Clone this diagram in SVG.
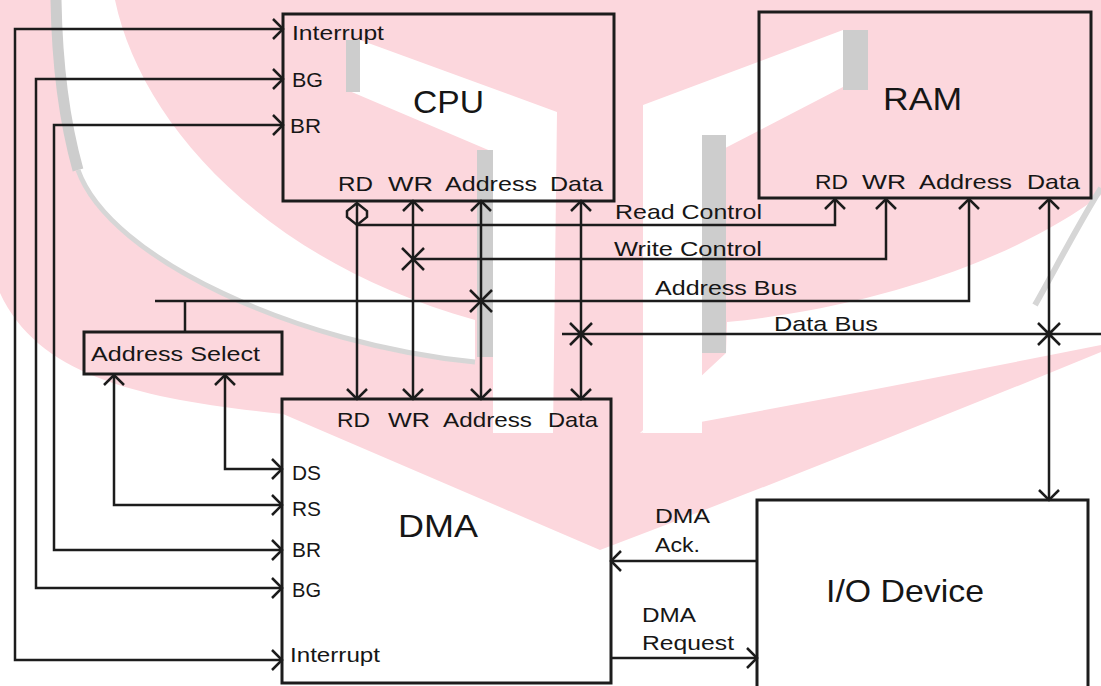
<svg xmlns="http://www.w3.org/2000/svg" width="1101" height="686" viewBox="0 0 1101 686">
<style>
.box{fill:none;stroke:#1c1c1c;stroke-width:3}
.ln{fill:none;stroke:#1c1c1c;stroke-width:2.5}
.t{font-family:"Liberation Sans",Arial,sans-serif;font-size:21px;fill:#161616}
.big{font-family:"Liberation Sans",Arial,sans-serif;font-size:32px;fill:#161616}
</style>
<defs>
<marker id="ah" viewBox="-12 -12 24 24" refX="0" refY="0" markerWidth="24" markerHeight="24" markerUnits="userSpaceOnUse" orient="auto-start-reverse" overflow="visible">
<path d="M-10,-10 L0,0 L-10,10" fill="none" stroke="#1c1c1c" stroke-width="2.5"/>
</marker>
</defs>
<rect width="1101" height="686" fill="#ffffff"/>
<g id="watermark">
<path d="M0,0 H1101 V352 Q850,455 600,550 L283,414 C150,400 40,380 0,293 Z" fill="#fcd7dd"/>
<path d="M115,0 C140,120 260,260 475,320 L475,362 C300,345 110,260 78,170 C64,120 57,60 56,0 Z" fill="#ffffff"/>
<path d="M56,0 C57,60 64,120 78,170" fill="none" stroke="#cdcdcd" stroke-width="11"/>
<path d="M78,170 C110,260 300,345 475,362" fill="none" stroke="#d6d6d6" stroke-width="5"/>
<path d="M360,40 L557,112 L553,433 L493,433 L493,152 L347,90 Z" fill="#ffffff"/>
<rect x="346" y="40" width="14" height="52" fill="#cdcdcd"/>
<rect x="477" y="150" width="16" height="207" fill="#cdcdcd"/>
<path d="M843,30 L843,87 L702,160 L702,433 L643,433 L643,105 Z" fill="#ffffff"/>
<rect x="843" y="30" width="25" height="60" fill="#cdcdcd"/>
<rect x="702" y="135" width="24" height="218" fill="#cdcdcd"/>
<path d="M727,322 C850,310 1000,270 1101,195 L1101,345 Q850,395 640,433 L726,353 Z" fill="#ffffff"/>
<path d="M1101,188 C1075,230 1055,270 1035,305" fill="none" stroke="#d6d6d6" stroke-width="6"/>
</g>
<g id="connectors">
<path class="ln" d="M283,29 H15 V660 H282" marker-start="url(#ah)" marker-end="url(#ah)"/>
<path class="ln" d="M283,79 H36 V588 H282" marker-start="url(#ah)" marker-end="url(#ah)"/>
<path class="ln" d="M283,125 H54 V550 H282" marker-start="url(#ah)" marker-end="url(#ah)"/>
<path class="ln" d="M282,469 H225 V375" marker-start="url(#ah)" marker-end="url(#ah)"/>
<path class="ln" d="M282,505 H114 V375" marker-start="url(#ah)" marker-end="url(#ah)"/>
<path class="ln" d="M185,332 V301"/>
<path class="ln" d="M155,301 H969 V199" marker-end="url(#ah)"/>
<path class="ln" d="M357,203 V399" marker-end="url(#ah)"/>
<path class="ln" d="M357,203 L347,211 L347,217 L357,225 L367,217 L367,211 Z"/>
<path class="ln" d="M357,225 H835 V199" marker-end="url(#ah)"/>
<path class="ln" d="M413,201 V399" marker-start="url(#ah)" marker-end="url(#ah)"/>
<path class="ln" d="M413,259 H886 V199" marker-end="url(#ah)"/>
<path class="ln" d="M481,201 V399" marker-start="url(#ah)" marker-end="url(#ah)"/>
<path class="ln" d="M581,201 V399" marker-start="url(#ah)" marker-end="url(#ah)"/>
<path class="ln" d="M562,334 H1101"/>
<path class="ln" d="M1049,199 V500" marker-start="url(#ah)" marker-end="url(#ah)"/>
<path class="ln" d="M757,561 H611" marker-end="url(#ah)"/>
<path class="ln" d="M611,658 H757" marker-end="url(#ah)"/>
<path class="ln" d="M402,248 L424,270 M402,270 L424,248"/>
<path class="ln" d="M470,290 L492,312 M470,312 L492,290"/>
<path class="ln" d="M570,323 L592,345 M570,345 L592,323"/>
<path class="ln" d="M1038,323 L1060,345 M1038,345 L1060,323"/>
<circle cx="581" cy="334" r="3.5" fill="#1c1c1c"/>
<circle cx="1049" cy="334" r="3.5" fill="#1c1c1c"/>
<text class="t" x="615" y="219" textLength="147" lengthAdjust="spacingAndGlyphs">Read Control</text>
<text class="t" x="614" y="256" textLength="148" lengthAdjust="spacingAndGlyphs">Write Control</text>
<text class="t" x="655" y="295" textLength="142" lengthAdjust="spacingAndGlyphs">Address Bus</text>
<text class="t" x="774" y="331" textLength="104" lengthAdjust="spacingAndGlyphs">Data Bus</text>
<text class="t" x="655" y="523" textLength="55" lengthAdjust="spacingAndGlyphs">DMA</text>
<text class="t" x="655" y="552" textLength="45" lengthAdjust="spacingAndGlyphs">Ack.</text>
<text class="t" x="642" y="622" textLength="54" lengthAdjust="spacingAndGlyphs">DMA</text>
<text class="t" x="642" y="650" textLength="92" lengthAdjust="spacingAndGlyphs">Request</text>
</g>
<g id="cpu">
<rect class="box" x="283" y="14" width="331" height="187"/>
<text class="t" x="292" y="40" textLength="92" lengthAdjust="spacingAndGlyphs">Interrupt</text>
<text class="t" x="292" y="87" textLength="31" lengthAdjust="spacingAndGlyphs">BG</text>
<text class="t" x="290" y="133" textLength="31" lengthAdjust="spacingAndGlyphs">BR</text>
<text class="big" x="413" y="113" textLength="71" lengthAdjust="spacingAndGlyphs">CPU</text>
<text class="t" x="338" y="191" textLength="35" lengthAdjust="spacingAndGlyphs">RD</text>
<text class="t" x="388" y="191" textLength="45" lengthAdjust="spacingAndGlyphs">WR</text>
<text class="t" x="445" y="191" textLength="92" lengthAdjust="spacingAndGlyphs">Address</text>
<text class="t" x="550" y="191" textLength="53" lengthAdjust="spacingAndGlyphs">Data</text>
</g>
<g id="ram">
<rect class="box" x="759" y="12" width="332" height="186"/>
<text class="big" x="883" y="110" textLength="79" lengthAdjust="spacingAndGlyphs">RAM</text>
<text class="t" x="815" y="189" textLength="33" lengthAdjust="spacingAndGlyphs">RD</text>
<text class="t" x="862" y="189" textLength="44" lengthAdjust="spacingAndGlyphs">WR</text>
<text class="t" x="919" y="189" textLength="93" lengthAdjust="spacingAndGlyphs">Address</text>
<text class="t" x="1027" y="189" textLength="53" lengthAdjust="spacingAndGlyphs">Data</text>
</g>
<g id="address-select">
<rect class="box" x="84" y="332" width="198" height="42"/>
<text class="t" x="91" y="361" textLength="169" lengthAdjust="spacingAndGlyphs">Address Select</text>
</g>
<g id="dma">
<rect class="box" x="282" y="399" width="329" height="284"/>
<text class="t" x="337" y="427" textLength="33" lengthAdjust="spacingAndGlyphs">RD</text>
<text class="t" x="388" y="427" textLength="42" lengthAdjust="spacingAndGlyphs">WR</text>
<text class="t" x="443" y="427" textLength="89" lengthAdjust="spacingAndGlyphs">Address</text>
<text class="t" x="548" y="427" textLength="50" lengthAdjust="spacingAndGlyphs">Data</text>
<text class="t" x="292" y="480" textLength="29" lengthAdjust="spacingAndGlyphs">DS</text>
<text class="t" x="292" y="516" textLength="29" lengthAdjust="spacingAndGlyphs">RS</text>
<text class="t" x="292" y="557" textLength="29" lengthAdjust="spacingAndGlyphs">BR</text>
<text class="t" x="292" y="597" textLength="29" lengthAdjust="spacingAndGlyphs">BG</text>
<text class="t" x="290" y="662" textLength="90" lengthAdjust="spacingAndGlyphs">Interrupt</text>
<text class="big" x="398" y="537" textLength="80" lengthAdjust="spacingAndGlyphs">DMA</text>
</g>
<g id="io-device">
<rect class="box" x="757" y="500" width="331" height="200"/>
<text class="big" x="826" y="602" textLength="158" lengthAdjust="spacingAndGlyphs">I/O Device</text>
</g>
</svg>
